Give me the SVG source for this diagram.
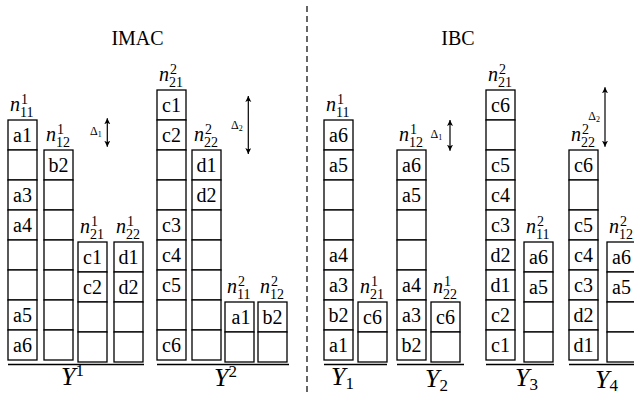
<svg xmlns="http://www.w3.org/2000/svg" width="634" height="395" viewBox="0 0 634 395">
<style>
.c{fill:#fff;stroke:#000;stroke-width:1.3}
.t{font-family:"Liberation Serif","Times New Roman","DejaVu Serif",serif;font-size:20px;text-anchor:middle;fill:#000}
.l{font-family:"Liberation Serif","Times New Roman","DejaVu Serif",serif;font-size:20px;fill:#000}
.it{font-style:italic}
.s{font-size:14px;font-style:normal}
.ttl{font-family:"Liberation Serif","Times New Roman","DejaVu Serif",serif;font-size:20px;text-anchor:middle;fill:#000}
.y{font-family:"Liberation Serif","Times New Roman","DejaVu Serif",serif;font-size:26px;fill:#000}
.ys{font-size:17px;font-style:normal}
.d{font-family:"Liberation Serif","Times New Roman","DejaVu Serif",serif;font-size:12px;fill:#000}
.ds{font-size:8px}
.base{stroke:#000;stroke-width:1.5}
.arr{stroke:#000;stroke-width:1.2;marker-start:url(#ah);marker-end:url(#ah)}
</style>
<defs>
<marker id="ah" markerUnits="userSpaceOnUse" markerWidth="7" markerHeight="7" refX="6" refY="3" orient="auto-start-reverse">
<path d="M0,0 L6,3 L0,6 L1.5,3 z" fill="#000"/>
</marker>
</defs>
<text class="ttl" x="137.5" y="45">IMAC</text>
<text class="ttl" x="458" y="45">IBC</text>
<g id="connectors">
<line x1="307" y1="6" x2="307" y2="392" stroke="#000" stroke-width="1.2" stroke-dasharray="6,4"/>
<line class="base" x1="8" y1="364.5" x2="144" y2="364.5"/>
<line class="base" x1="157" y1="364.5" x2="289" y2="364.5"/>
<line class="base" x1="324" y1="364.5" x2="387" y2="364.5"/>
<line class="base" x1="397" y1="364.5" x2="464" y2="364.5"/>
<line class="base" x1="486" y1="364.5" x2="554" y2="364.5"/>
<line class="base" x1="569" y1="364.5" x2="640" y2="364.5"/>
<line class="arr" x1="107.3" y1="118.3" x2="107.3" y2="146.7"/>
<line class="arr" x1="248.3" y1="96" x2="248.3" y2="154"/>
<line class="arr" x1="450" y1="120" x2="450" y2="150.7"/>
<line class="arr" x1="605" y1="87.3" x2="605" y2="146.7"/>
</g>
<text class="d" x="90" y="135">Δ<tspan class="ds" dy="2">1</tspan></text>
<text class="d" x="231" y="128.5">Δ<tspan class="ds" dy="2">2</tspan></text>
<text class="d" x="430.5" y="138">Δ<tspan class="ds" dy="2">1</tspan></text>
<text class="d" x="588.3" y="120">Δ<tspan class="ds" dy="2">2</tspan></text>
<text class="y it" x="61" y="385">Y<tspan class="ys" dy="-9">1</tspan></text>
<text class="y it" x="214" y="386">Y<tspan class="ys" dy="-9">2</tspan></text>
<text class="y it" x="331" y="385">Y<tspan class="ys" dy="3.5">1</tspan></text>
<text class="y it" x="425" y="387">Y<tspan class="ys" dy="3.5">2</tspan></text>
<text class="y it" x="515" y="386">Y<tspan class="ys" dy="3.5">3</tspan></text>
<text class="y it" x="595" y="387.5">Y<tspan class="ys" dy="3">4</tspan></text>

<g id="imac-n11-1">
<rect class="c" x="8" y="120" width="29" height="30"/><rect class="c" x="8" y="150" width="29" height="30"/><rect class="c" x="8" y="180" width="29" height="30"/><rect class="c" x="8" y="210" width="29" height="30"/><rect class="c" x="8" y="240" width="29" height="30"/><rect class="c" x="8" y="270" width="29" height="30"/><rect class="c" x="8" y="300" width="29" height="30"/><rect class="c" x="8" y="330" width="29" height="30"/>
<text class="t" x="22.5" y="141.5">a1</text><text class="t" x="22.5" y="201.5">a3</text><text class="t" x="22.5" y="231.5">a4</text><text class="t" x="22.5" y="321.5">a5</text><text class="t" x="22.5" y="351.5">a6</text>
<text class="l" x="10" y="110.5"><tspan class="it">n</tspan><tspan class="s" dy="6.5">11</tspan><tspan class="s" x="21" dy="-13">1</tspan></text>
</g>
<g id="imac-n12-1">
<rect class="c" x="44" y="150" width="29" height="30"/><rect class="c" x="44" y="180" width="29" height="30"/><rect class="c" x="44" y="210" width="29" height="30"/><rect class="c" x="44" y="240" width="29" height="30"/><rect class="c" x="44" y="270" width="29" height="30"/><rect class="c" x="44" y="300" width="29" height="30"/><rect class="c" x="44" y="330" width="29" height="30"/>
<text class="t" x="58.5" y="171.5">b2</text>
<text class="l" x="46" y="140.5"><tspan class="it">n</tspan><tspan class="s" dy="6.5">12</tspan><tspan class="s" x="57" dy="-13">1</tspan></text>
</g>
<g id="imac-n21-1">
<rect class="c" x="78" y="242" width="29" height="30"/><rect class="c" x="78" y="272" width="29" height="30"/><rect class="c" x="78" y="302" width="29" height="30"/><rect class="c" x="78" y="332" width="29" height="30"/>
<text class="t" x="92.5" y="263.5">c1</text><text class="t" x="92.5" y="293.5">c2</text>
<text class="l" x="80" y="232.5"><tspan class="it">n</tspan><tspan class="s" dy="6.5">21</tspan><tspan class="s" x="91" dy="-13">1</tspan></text>
</g>
<g id="imac-n22-1">
<rect class="c" x="114" y="242" width="29" height="30"/><rect class="c" x="114" y="272" width="29" height="30"/><rect class="c" x="114" y="302" width="29" height="30"/><rect class="c" x="114" y="332" width="29" height="30"/>
<text class="t" x="128.5" y="263.5">d1</text><text class="t" x="128.5" y="293.5">d2</text>
<text class="l" x="116" y="232.5"><tspan class="it">n</tspan><tspan class="s" dy="6.5">22</tspan><tspan class="s" x="127" dy="-13">1</tspan></text>
</g>
<g id="imac-n21-2">
<rect class="c" x="157" y="90" width="29" height="30"/><rect class="c" x="157" y="120" width="29" height="30"/><rect class="c" x="157" y="150" width="29" height="30"/><rect class="c" x="157" y="180" width="29" height="30"/><rect class="c" x="157" y="210" width="29" height="30"/><rect class="c" x="157" y="240" width="29" height="30"/><rect class="c" x="157" y="270" width="29" height="30"/><rect class="c" x="157" y="300" width="29" height="30"/><rect class="c" x="157" y="330" width="29" height="30"/>
<text class="t" x="171.5" y="111.5">c1</text><text class="t" x="171.5" y="141.5">c2</text><text class="t" x="171.5" y="231.5">c3</text><text class="t" x="171.5" y="261.5">c4</text><text class="t" x="171.5" y="291.5">c5</text><text class="t" x="171.5" y="351.5">c6</text>
<text class="l" x="159" y="80.5"><tspan class="it">n</tspan><tspan class="s" dy="6.5">21</tspan><tspan class="s" x="170" dy="-13">2</tspan></text>
</g>
<g id="imac-n22-2">
<rect class="c" x="192" y="150" width="29" height="30"/><rect class="c" x="192" y="180" width="29" height="30"/><rect class="c" x="192" y="210" width="29" height="30"/><rect class="c" x="192" y="240" width="29" height="30"/><rect class="c" x="192" y="270" width="29" height="30"/><rect class="c" x="192" y="300" width="29" height="30"/><rect class="c" x="192" y="330" width="29" height="30"/>
<text class="t" x="206.5" y="171.5">d1</text><text class="t" x="206.5" y="201.5">d2</text>
<text class="l" x="194" y="140.5"><tspan class="it">n</tspan><tspan class="s" dy="6.5">22</tspan><tspan class="s" x="205" dy="-13">2</tspan></text>
</g>
<g id="imac-n11-2">
<rect class="c" x="225" y="302" width="29" height="30"/><rect class="c" x="225" y="332" width="29" height="30"/>
<text class="t" x="241" y="323.5">a1</text>
<text class="l" x="227" y="292.5"><tspan class="it">n</tspan><tspan class="s" dy="6.5">11</tspan><tspan class="s" x="238" dy="-13">2</tspan></text>
</g>
<g id="imac-n12-2">
<rect class="c" x="258" y="302" width="29" height="30"/><rect class="c" x="258" y="332" width="29" height="30"/>
<text class="t" x="272.5" y="323.5">b2</text>
<text class="l" x="260" y="292.5"><tspan class="it">n</tspan><tspan class="s" dy="6.5">12</tspan><tspan class="s" x="271" dy="-13">2</tspan></text>
</g>

<g id="ibc-n11-1">
<rect class="c" x="324" y="120" width="29" height="30"/><rect class="c" x="324" y="150" width="29" height="30"/><rect class="c" x="324" y="180" width="29" height="30"/><rect class="c" x="324" y="210" width="29" height="30"/><rect class="c" x="324" y="240" width="29" height="30"/><rect class="c" x="324" y="270" width="29" height="30"/><rect class="c" x="324" y="300" width="29" height="30"/><rect class="c" x="324" y="330" width="29" height="30"/>
<text class="t" x="338.5" y="141.5">a6</text><text class="t" x="338.5" y="171.5">a5</text><text class="t" x="338.5" y="261.5">a4</text><text class="t" x="338.5" y="291.5">a3</text><text class="t" x="338.5" y="321.5">b2</text><text class="t" x="338.5" y="351.5">a1</text>
<text class="l" x="326" y="110.5"><tspan class="it">n</tspan><tspan class="s" dy="6.5">11</tspan><tspan class="s" x="337" dy="-13">1</tspan></text>
</g>
<g id="ibc-n21-1">
<rect class="c" x="358" y="302" width="29" height="30"/><rect class="c" x="358" y="332" width="29" height="30"/>
<text class="t" x="372.5" y="323.5">c6</text>
<text class="l" x="360" y="292.5"><tspan class="it">n</tspan><tspan class="s" dy="6.5">21</tspan><tspan class="s" x="371" dy="-13">1</tspan></text>
</g>
<g id="ibc-n12-1">
<rect class="c" x="397" y="150" width="29" height="30"/><rect class="c" x="397" y="180" width="29" height="30"/><rect class="c" x="397" y="210" width="29" height="30"/><rect class="c" x="397" y="240" width="29" height="30"/><rect class="c" x="397" y="270" width="29" height="30"/><rect class="c" x="397" y="300" width="29" height="30"/><rect class="c" x="397" y="330" width="29" height="30"/>
<text class="t" x="411.5" y="171.5">a6</text><text class="t" x="411.5" y="201.5">a5</text><text class="t" x="411.5" y="291.5">a4</text><text class="t" x="411.5" y="321.5">a3</text><text class="t" x="411.5" y="351.5">b2</text>
<text class="l" x="399" y="140.5"><tspan class="it">n</tspan><tspan class="s" dy="6.5">12</tspan><tspan class="s" x="410" dy="-13">1</tspan></text>
</g>
<g id="ibc-n22-1">
<rect class="c" x="431" y="302" width="29" height="30"/><rect class="c" x="431" y="332" width="29" height="30"/>
<text class="t" x="445.5" y="323.5">c6</text>
<text class="l" x="433" y="292.5"><tspan class="it">n</tspan><tspan class="s" dy="6.5">22</tspan><tspan class="s" x="444" dy="-13">1</tspan></text>
</g>
<g id="ibc-n21-2">
<rect class="c" x="486" y="90" width="29" height="30"/><rect class="c" x="486" y="120" width="29" height="30"/><rect class="c" x="486" y="150" width="29" height="30"/><rect class="c" x="486" y="180" width="29" height="30"/><rect class="c" x="486" y="210" width="29" height="30"/><rect class="c" x="486" y="240" width="29" height="30"/><rect class="c" x="486" y="270" width="29" height="30"/><rect class="c" x="486" y="300" width="29" height="30"/><rect class="c" x="486" y="330" width="29" height="30"/>
<text class="t" x="500.5" y="111.5">c6</text><text class="t" x="500.5" y="171.5">c5</text><text class="t" x="500.5" y="201.5">c4</text><text class="t" x="500.5" y="231.5">c3</text><text class="t" x="500.5" y="261.5">d2</text><text class="t" x="500.5" y="291.5">d1</text><text class="t" x="500.5" y="321.5">c2</text><text class="t" x="500.5" y="351.5">c1</text>
<text class="l" x="488" y="80.5"><tspan class="it">n</tspan><tspan class="s" dy="6.5">21</tspan><tspan class="s" x="499" dy="-13">2</tspan></text>
</g>
<g id="ibc-n11-2">
<rect class="c" x="524" y="242" width="29" height="30"/><rect class="c" x="524" y="272" width="29" height="30"/><rect class="c" x="524" y="302" width="29" height="30"/><rect class="c" x="524" y="332" width="29" height="30"/>
<text class="t" x="538.5" y="263.5">a6</text><text class="t" x="538.5" y="293.5">a5</text>
<text class="l" x="526" y="232.5"><tspan class="it">n</tspan><tspan class="s" dy="6.5">11</tspan><tspan class="s" x="537" dy="-13">2</tspan></text>
</g>
<g id="ibc-n22-2">
<rect class="c" x="569" y="150" width="29" height="30"/><rect class="c" x="569" y="180" width="29" height="30"/><rect class="c" x="569" y="210" width="29" height="30"/><rect class="c" x="569" y="240" width="29" height="30"/><rect class="c" x="569" y="270" width="29" height="30"/><rect class="c" x="569" y="300" width="29" height="30"/><rect class="c" x="569" y="330" width="29" height="30"/>
<text class="t" x="583.5" y="171.5">c6</text><text class="t" x="583.5" y="231.5">c5</text><text class="t" x="583.5" y="261.5">c4</text><text class="t" x="583.5" y="291.5">c3</text><text class="t" x="583.5" y="321.5">d2</text><text class="t" x="583.5" y="351.5">d1</text>
<text class="l" x="571" y="140.5"><tspan class="it">n</tspan><tspan class="s" dy="6.5">22</tspan><tspan class="s" x="582" dy="-13">2</tspan></text>
</g>
<g id="ibc-n12-2">
<rect class="c" x="607" y="242" width="29" height="30"/><rect class="c" x="607" y="272" width="29" height="30"/><rect class="c" x="607" y="302" width="29" height="30"/><rect class="c" x="607" y="332" width="29" height="30"/>
<text class="t" x="621.5" y="263.5">a6</text><text class="t" x="621.5" y="293.5">a5</text>
<text class="l" x="609" y="232.5"><tspan class="it">n</tspan><tspan class="s" dy="6.5">12</tspan><tspan class="s" x="620" dy="-13">2</tspan></text>
</g>
</svg>
